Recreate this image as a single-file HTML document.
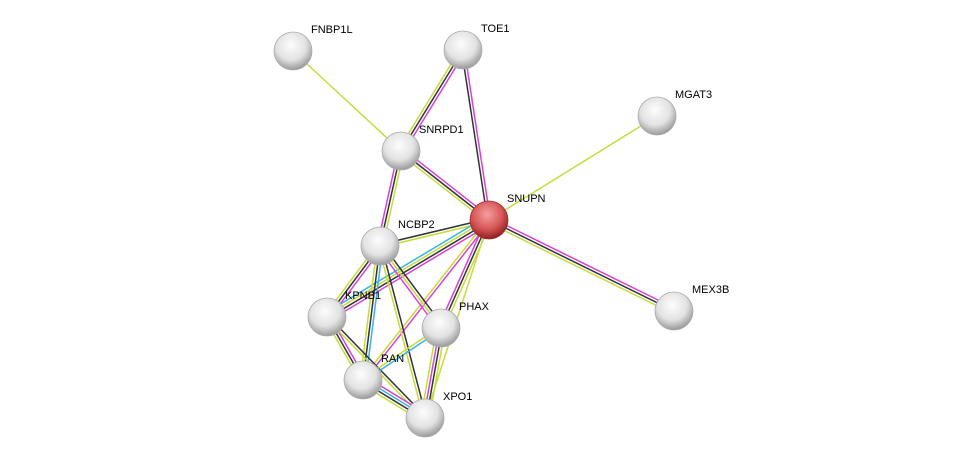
<!DOCTYPE html>
<html><head><meta charset="utf-8">
<style>html,body{margin:0;padding:0;background:#fff;width:975px;height:463px;overflow:hidden}
text{font-family:"Liberation Sans",sans-serif;font-size:11px;fill:#000}</style></head>
<body>
<svg id="s" width="975" height="463" xmlns="http://www.w3.org/2000/svg">
<defs>
<radialGradient id="g" cx="45%" cy="35%" r="65%">
<stop offset="0" stop-color="#fdfdfd"/><stop offset="0.6" stop-color="#e2e2e2"/><stop offset="1" stop-color="#9a9a9a"/></radialGradient>
<radialGradient id="r" cx="45%" cy="35%" r="65%">
<stop offset="0" stop-color="#f2a0a0"/><stop offset="0.6" stop-color="#d85656"/><stop offset="1" stop-color="#8e2020"/></radialGradient>
</defs>
<g id="e"></g><g id="n"></g>
</svg>
<script>
var N={FNBP1L:[293,51],TOE1:[463,50],MGAT3:[657,116],SNRPD1:[401,151],SNUPN:[489,220],NCBP2:[380,246],KPNB1:[327,317],PHAX:[441,328],MEX3B:[674,311],RAN:[363,380],XPO1:[425,418]};
var Y='#c5dc3a',B='#333',M='#d940d9',C='#38b4e4';
var E=[["FNBP1L","SNRPD1",[Y]],["TOE1","SNRPD1",[M,B,Y]],["TOE1","SNUPN",[M,B]],["MGAT3","SNUPN",[Y]],
["SNRPD1","SNUPN",[M,B,Y]],["SNRPD1","NCBP2",[Y,B,M]],["SNUPN","NCBP2",[Y,B]],["SNUPN","KPNB1",[M,B,Y,C]],
["SNUPN","PHAX",[Y,B,M]],["SNUPN","RAN",[M,Y]],["SNUPN","XPO1",[Y]],["SNUPN","MEX3B",[M,B,Y]],
["NCBP2","KPNB1",[M,B,Y]],["NCBP2","PHAX",[B,Y,M]],["NCBP2","RAN",[C,B,Y]],["NCBP2","XPO1",[B,Y]],
["KPNB1","RAN",[M,B,Y]],["KPNB1","XPO1",[B,Y]],["PHAX","RAN",[C,Y]],["PHAX","XPO1",[Y,B,M,Y]],["RAN","XPO1",[M,C,B,Y]]];
var ns='http://www.w3.org/2000/svg',eg=document.getElementById('e'),ng=document.getElementById('n');
E.forEach(function(e){var a=N[e[0]],b=N[e[1]],dx=b[0]-a[0],dy=b[1]-a[1],L=Math.hypot(dx,dy),px=-dy/L,py=dx/L,k=e[2].length;
e[2].forEach(function(c,i){var o=(i-(k-1)/2)*2.8;var l=document.createElementNS(ns,'line');
l.setAttribute('x1',a[0]+px*o);l.setAttribute('y1',a[1]+py*o);l.setAttribute('x2',b[0]+px*o);l.setAttribute('y2',b[1]+py*o);
l.setAttribute('stroke',c);l.setAttribute('stroke-width','1.5');eg.appendChild(l);});});
for(var k in N){var p=N[k];var c=document.createElementNS(ns,'circle');c.setAttribute('cx',p[0]);c.setAttribute('cy',p[1]);c.setAttribute('r',19);
c.setAttribute('fill',k=='SNUPN'?'url(#r)':'url(#g)');c.setAttribute('stroke',k=='SNUPN'?'#a03030':'#aaa');c.setAttribute('stroke-width','0.8');ng.appendChild(c);
var t=document.createElementNS(ns,'text');t.setAttribute('x',p[0]+18);t.setAttribute('y',p[1]-18);t.textContent=k;ng.appendChild(t);}
</script>
</body></html>
